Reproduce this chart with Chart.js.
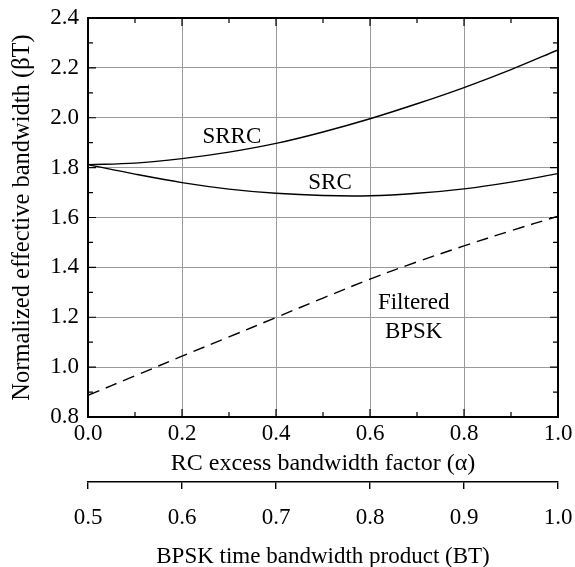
<!DOCTYPE html>
<html>
<head>
<meta charset="utf-8">
<script src="https://cdn.jsdelivr.net/npm/chart.js@4"></script>
<style>
  html, body { margin: 0; padding: 0; background: #fff; }
  #wrap { width: 575px; height: 567px; }
</style>
</head>
<body>
<div id="wrap"><canvas id="chart" width="575" height="567"></canvas></div>
<script>
// ---------------------------------------------------------------------------
// Data
// ---------------------------------------------------------------------------
const alphaValues = [0, 0.1, 0.2, 0.3, 0.4, 0.5, 0.6, 0.7, 0.8, 0.9, 1.0];
const srrcValues  = [1.812, 1.818, 1.836, 1.862, 1.897, 1.943, 1.996, 2.056, 2.121, 2.193, 2.272];
const srcValues   = [1.812, 1.774, 1.740, 1.714, 1.697, 1.688, 1.687, 1.697, 1.715, 1.742, 1.776];
const bpskValues  = [0.887, 0.965, 1.044, 1.121, 1.199, 1.277, 1.353, 1.422, 1.486, 1.547, 1.605];

const yTickValues  = [0.8, 1.0, 1.2, 1.4, 1.6, 1.8, 2.0, 2.2, 2.4];
const xTickValues  = [0, 0.2, 0.4, 0.6, 0.8, 1.0];
const btTickValues = [0.5, 0.6, 0.7, 0.8, 0.9, 1.0];

// curve labels: [text lines, alpha, value]
const curveLabels = [
    [['SRRC'], 0.306, 1.922],
    [['SRC'], 0.515, 1.737],
    [['Filtered', 'BPSK'], 0.693, 1.256],
];

const FONT = "'Liberation Serif', 'Times New Roman', serif";
const GRID = '#9a9a9a';

const toPoints = vals => alphaValues.map((a, i) => ({ x: a, y: vals[i] }));

// fixed scale size, and no extra room for labels hanging past the plot
function fixSize(prop, size) {
    return s => {
        s[prop] = size;
        s.paddingLeft = s.paddingRight = s.paddingTop = s.paddingBottom = 0;
    };
}

// ---------------------------------------------------------------------------
// Frame, inward ticks and curve labels
// ---------------------------------------------------------------------------
const framePlugin = {
    id: 'frame',
    afterDatasetsDraw(chart) {
        const { ctx, chartArea: ca, scales } = chart;
        const xs = scales.x, ys = scales.y;
        ctx.save();
        ctx.strokeStyle = '#000';
        ctx.lineWidth = 1.2;
        ctx.beginPath();
        for (let k = 0; k <= 10; k++) {
            const px = xs.getPixelForValue(k / 10);
            const len = k % 2 === 0 ? 8 : 5;
            ctx.moveTo(px, ca.bottom); ctx.lineTo(px, ca.bottom - len);
            ctx.moveTo(px, ca.top); ctx.lineTo(px, ca.top + len);
        }
        for (let k = 8; k <= 24; k++) {
            const py = ys.getPixelForValue(k / 10);
            const len = k % 2 === 0 ? 8 : 5;
            ctx.moveTo(ca.left, py); ctx.lineTo(ca.left + len, py);
            ctx.moveTo(ca.right, py); ctx.lineTo(ca.right - len, py);
        }
        ctx.stroke();

        ctx.lineWidth = 2;
        ctx.strokeRect(ca.left, ca.top, ca.right - ca.left, ca.bottom - ca.top);

        ctx.fillStyle = '#000';
        ctx.font = '23px ' + FONT;
        ctx.textAlign = 'center';
        ctx.textBaseline = 'middle';
        curveLabels.forEach(([lines, a, v]) => {
            const px = xs.getPixelForValue(a);
            const py = ys.getPixelForValue(v);
            lines.forEach((t, i) => ctx.fillText(t, px, py + i * 29));
        });
        ctx.restore();
    }
};

const lineStyle = {
    borderColor: '#000',
    borderWidth: 1.4,
    pointRadius: 0,
    tension: 0.35,
    fill: false,
};

new Chart(document.getElementById('chart'), {
    type: 'line',
    data: {
        datasets: [
            { label: 'SRRC', data: toPoints(srrcValues), ...lineStyle },
            { label: 'SRC', data: toPoints(srcValues), ...lineStyle },
            { label: 'Filtered BPSK', data: toPoints(bpskValues), ...lineStyle, borderDash: [12, 7] },
        ],
    },
    options: {
        responsive: false,
        animation: false,
        layout: { padding: { top: 18, right: 17, left: 0, bottom: 0 } },
        plugins: { legend: { display: false }, tooltip: { enabled: false } },
        scales: {
            x: {
                type: 'linear',
                position: 'bottom',
                weight: 0,
                min: 0, max: 1,
                afterBuildTicks: s => { s.ticks = xTickValues.map(v => ({ value: v })); },
                afterFit: fixSize('height', 65),
                grid: { color: GRID, lineWidth: 1, drawTicks: false },
                border: { display: false },
                ticks: {
                    color: '#000', padding: 3,
                    font: { family: FONT, size: 23, lineHeight: 1.2 },
                    callback: v => Number(v).toFixed(1),
                    maxRotation: 0,
                },
                title: {
                    display: true,
                    text: 'RC excess bandwidth factor (α)',
                    color: '#000',
                    font: { family: FONT, size: 24, lineHeight: 1.2 },
                    padding: { top: 0, bottom: 4 },
                },
            },
            x2: {
                type: 'linear',
                position: 'bottom',
                weight: 1,
                min: 0.5, max: 1.0,
                afterBuildTicks: s => { s.ticks = btTickValues.map(v => ({ value: v })); },
                afterFit: fixSize('height', 85),
                grid: { drawOnChartArea: false, drawTicks: true, tickLength: 7, color: '#000', lineWidth: 1.4 },
                border: { display: true, color: '#000', width: 1.5 },
                ticks: {
                    color: '#000', padding: 15,
                    font: { family: FONT, size: 23, lineHeight: 1.2 },
                    callback: v => Number(v).toFixed(1),
                    maxRotation: 0,
                },
                title: {
                    display: true,
                    text: 'BPSK time bandwidth product (BT)',
                    color: '#000',
                    font: { family: FONT, size: 23, lineHeight: 0.85 },
                    padding: 0,
                },
            },
            y: {
                type: 'linear',
                position: 'left',
                min: 0.8, max: 2.4,
                afterBuildTicks: s => { s.ticks = yTickValues.map(v => ({ value: v })); },
                afterFit: fixSize('width', 88),
                grid: { color: GRID, lineWidth: 1, drawTicks: false },
                border: { display: false },
                ticks: {
                    color: '#000', padding: 9,
                    font: { family: FONT, size: 23, lineHeight: 1.2 },
                    callback: v => Number(v).toFixed(1),
                },
                title: {
                    display: true,
                    text: 'Normalized effective bandwidth (βT)',
                    color: '#000',
                    font: { family: FONT, size: 24.5, lineHeight: 1.2 },
                    padding: { top: 8, bottom: 0 },
                },
            },
        },
    },
    plugins: [framePlugin],
});
</script>
</body>
</html>
